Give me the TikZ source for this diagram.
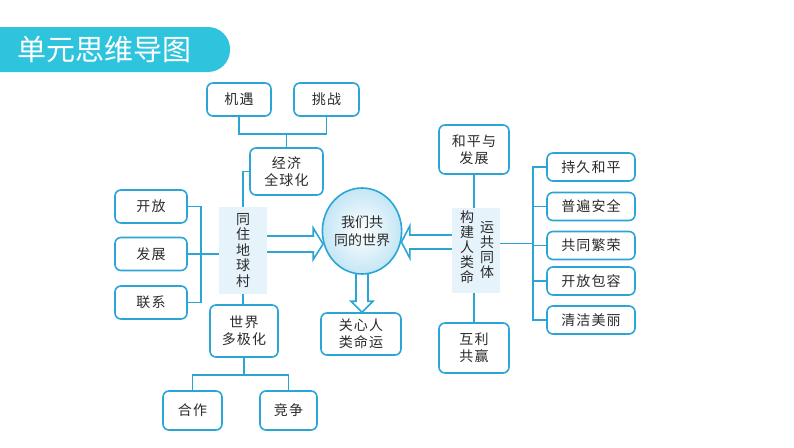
\documentclass[tikz,border=0pt]{standalone}
\usepackage{fontspec}
\newfontfamily\cjk{Noto Sans CJK SC}
\newfontfamily\cjkwide[LetterSpace=8]{Noto Sans CJK SC}
\usepackage{xcolor}
\usetikzlibrary{calc, shapes.geometric, backgrounds}

\definecolor{mapline}{HTML}{2AA5D5}
\definecolor{banner}{HTML}{2EC4DE}
\definecolor{panel}{HTML}{E6F3FA}
\definecolor{worldedge}{HTML}{C4E6F5}
\definecolor{ink}{HTML}{2B2B2B}

\tikzset{
	box/.style = {draw = mapline, line width = 1.6pt, rounded corners = 6pt, fill = white, text = ink, font = \cjkwide\fontsize{14}{17}\selectfont, align = center, inner sep = 0pt},
	panel box/.style = {fill = panel, text = ink, font = \cjk\fontsize{14}{15.5}\selectfont, align = center, inner sep = 0pt},
	column/.style = {text = ink, font = \cjk\fontsize{14}{15}\selectfont, align = center, inner sep = 0pt},
	link/.style = {draw = mapline, line width = 1.6pt},
	hollow/.style = {draw = mapline, line width = 1.6pt, fill = white, line join = miter},
}

\begin{document}
\begin{tikzpicture}[x = 1pt, y = -1pt]
		\useasboundingbox (0, 0) rectangle (794, 447);
		
		% title
		\fill [banner, rounded corners = 22pt] (-30, 27) rectangle (230, 72);
		\node (title) at (104.5, 50) [text = white, font = \cjk\fontsize{29}{30}\selectfont] {单元思维导图};
		
		% centre
		\node (world) at (362, 231) [ellipse, draw = mapline, line width = 1.6pt, minimum width = 66pt, minimum height = 86pt, inner sep = 0pt, inner color = white, outer color = worldedge, text = ink, font = \cjk\fontsize{14}{18}\selectfont, align = center] {我们共\\同的世界};
		\node (care) at (361, 334) [box, minimum width = 80pt, minimum height = 42pt] {关心人\\类命运};
		
		% left side
		\node (village) at (243, 250.5) [panel box, minimum width = 48pt, minimum height = 87pt] {同\\住\\地\\球\\村};
		\node (economy) at (286.5, 171.5) [box, minimum width = 73pt, minimum height = 47pt] {经济\\全球化};
		\node (chance) at (239, 99.5) [box, minimum width = 64pt, minimum height = 33pt] {机遇};
		\node (challenge) at (326.5, 99.5) [box, minimum width = 65pt, minimum height = 33pt] {挑战};
		\node (opening) at (151, 206.5) [box, minimum width = 72pt, minimum height = 33pt] {开放};
		\node (growth) at (151, 254) [box, minimum width = 72pt, minimum height = 33pt] {发展};
		\node (ties) at (151, 302.5) [box, minimum width = 72pt, minimum height = 33pt] {联系};
		\node (multipolar) at (244, 331) [box, minimum width = 68pt, minimum height = 52pt] {世界\\多极化};
		\node (cooperation) at (192.5, 410.5) [box, minimum width = 59pt, minimum height = 39pt] {合作};
		\node (competition) at (288.5, 410.5) [box, minimum width = 57pt, minimum height = 39pt] {竞争};
		
		% right side
		\node (community) at (476, 250.5) [panel box, minimum width = 48pt, minimum height = 85pt] {};
		\node (community left) at (467, 247.5) [column] {构\\建\\人\\类\\命};
		\node (community right) at (487, 250) [column] {运\\共\\同\\体};
		\node (peace) at (474, 149.5) [box, minimum width = 70pt, minimum height = 49pt] {和平与\\发展};
		\node (win) at (474, 348) [box, minimum width = 70pt, minimum height = 50pt] {互利\\共赢};
		\node (lasting) at (591, 167) [box, minimum width = 88pt, minimum height = 28pt] {持久和平};
		\node (security) at (591, 206.5) [box, minimum width = 88pt, minimum height = 28pt] {普遍安全};
		\node (prosperity) at (591, 245.5) [box, minimum width = 88pt, minimum height = 28pt] {共同繁荣};
		\node (inclusive) at (591, 281) [box, minimum width = 88pt, minimum height = 28pt] {开放包容};
		\node (clean) at (591, 320) [box, minimum width = 88pt, minimum height = 28pt] {清洁美丽};
		
		% tree lines
		\draw [link] (chance.south) -- ++(0, 17) coordinate (top join) -| (challenge.south);
		\draw [link] (economy.north) -- (economy.north |- top join);
		\draw [link] (economy.west) -| (village.north);
		\draw [link] (opening.east) -- ++(13, 0) |- (ties.east);
		\draw [link] (growth.east) -- (growth.east -| village.west);
		\draw [link] (village.south) -- (village.south |- multipolar.north);
		\draw [link] (multipolar.south) -- ++(0, 17) coordinate (low join);
		\draw [link] (cooperation.north) |- (low join) -| (competition.north);
		
		\draw [link] (peace.south) -- (peace.south |- community.north);
		\draw [link] (win.north |- community.south) -- (win.north);
		\draw [link] ($(community.east) + (0, -7)$) -- ++(33, 0) coordinate (right join);
		\draw [link] (lasting.west) -| (right join) |- (clean.west);
		\draw [link] (security.west) -- (security.west -| right join);
		\draw [link] (prosperity.west) -- (prosperity.west -| right join);
		\draw [link] (inclusive.west) -- (inclusive.west -| right join);
		
		% hollow arrows
		\coordinate (left mid) at ($(village.east) + (0, -6.5)$);
		\coordinate (right mid) at ($(community.west) + (0, -8.5)$);
		\begin{scope}[on background layer]
			\draw [hollow] ($(left mid) + (0, -8)$) -- ++(46, 0) -- ++(0, -8) -- ($(world.west |- left mid) + (1.5, 0)$) -- ($(left mid) + (46, 15.5)$) -- ++(0, -7.5) -- ($(left mid) + (0, 8)$);
			\draw [hollow] ($(right mid) + (0, -7)$) -- ++(-42, 0) -- ++(0, -9) -- ($(world.east |- right mid) + (-1, 0)$) -- ($(right mid) + (-42, 16)$) -- ++(0, -9) -- ($(right mid) + (0, 7)$);
			\draw [hollow] ($(world.south) + (-6, -2)$) -- ($(world.south |- care.north) + (-6, -11)$) -- ++(-5, 0) -- (world.south |- care.north) -- ($(world.south |- care.north) + (11, -11)$) -- ++(-5, 0) -- ($(world.south) + (6, -2)$);
		\end{scope}
	\end{tikzpicture}
\end{document}
